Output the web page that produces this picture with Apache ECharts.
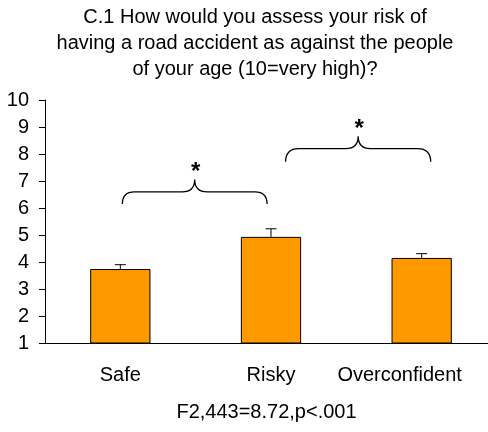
<!DOCTYPE html>
<html>
<head>
<meta charset="utf-8">
<script src="https://cdn.jsdelivr.net/npm/echarts@6/dist/echarts.min.js"></script>
<style>
html,body{margin:0;padding:0;background:#fff;overflow:hidden;width:488px;height:432px;}
#chart{width:500px;height:432px;}
</style>
</head>
<body>
<div id="chart"></div>
<script>
var titleText = 'C.1 How would you assess your risk of\nhaving a road accident as against the people\nof your age (10=very high)?';
var categories = ['Safe', 'Risky', 'Overconfident'];
var means = [3.74, 4.93, 4.15];
var errUpper = [3.90, 5.23, 4.31];
var yMin = 1, yMax = 10, yStep = 1;
var xAxisTitle = 'F2,443=8.72,p<.001';
// brace annotations
var braceFrom = [0, 1];
var braceTo = [1, 2];
var braceEnd = [6.15, 7.71];
var braceBar = [6.60, 8.20];
var braceTip = [7.06, 8.66];
var braceFromShift = [0.013, 0.097];
var braceToShift = [-0.026, 0.06];
var braceMark = ['*', '*'];

var FONT = '"Liberation Sans", Arial, sans-serif';
var FS = 20;
var chart = echarts.init(document.getElementById('chart'), null, {renderer: 'canvas'});

var errData = means.map(function (m, i) { return [i, m, errUpper[i]]; });
var braceData = braceFrom.map(function (f, i) {
  return [f, braceTo[i], braceEnd[i], braceBar[i], braceTip[i], braceFromShift[i], braceToShift[i]];
});

var xData = categories.map(function (c, i) {
  if (i === categories.length - 1) {
    return {value: c, textStyle: {padding: [0, 44, 0, 0]}};
  }
  return c;
});

chart.setOption({
  animation: false,
  backgroundColor: '#ffffff',
  title: {
    text: titleText,
    left: 255,
    textAlign: 'center',
    top: 4,
    padding: 0,
    textStyle: {fontFamily: FONT, fontSize: FS, fontWeight: 'normal', color: '#000', lineHeight: 26}
  },
  grid: {left: 45, top: 100, bottom: 89, width: 452, containLabel: false},
  xAxis: {
    type: 'category',
    data: xData,
    axisLine: {lineStyle: {color: '#000', width: 1}},
    axisTick: {show: false},
    axisLabel: {fontFamily: FONT, fontSize: FS, color: '#000', margin: 22, interval: 0},
    name: xAxisTitle,
    nameLocation: 'middle',
    nameGap: 59,
    nameTextStyle: {fontFamily: FONT, fontSize: FS, color: '#000', padding: [0, 9, 0, 0]}
  },
  yAxis: {
    type: 'value',
    min: yMin,
    max: yMax,
    interval: yStep,
    splitLine: {show: false},
    axisLine: {show: true, lineStyle: {color: '#000', width: 1}},
    axisTick: {show: true, length: 6, lineStyle: {color: '#000'}},
    axisLabel: {fontFamily: FONT, fontSize: FS, color: '#000', margin: 16}
  },
  series: [
    {
      type: 'bar',
      data: means,
      barWidth: '40%',
      itemStyle: {color: '#FF9900', borderColor: '#000', borderWidth: 1},
      z: 2
    },
    {
      type: 'custom',
      data: errData,
      z: 3,
      renderItem: function (params, api) {
        var x = api.value(0);
        var p0 = api.coord([x, api.value(1)]);
        var p1 = api.coord([x, api.value(2)]);
        var hw = 5.5;
        return {
          type: 'group',
          children: [
            {type: 'line', shape: {x1: p0[0], y1: p0[1], x2: p1[0], y2: p1[1]}, style: {stroke: '#000', lineWidth: 1}},
            {type: 'line', shape: {x1: p1[0] - hw, y1: p1[1], x2: p1[0] + hw, y2: p1[1]}, style: {stroke: '#000', lineWidth: 1}}
          ]
        };
      }
    },
    {
      type: 'custom',
      data: braceData,
      z: 4,
      clip: false,
      renderItem: function (params, api) {
        var bw = api.size([1, 0])[0];
        var a = api.coord([api.value(0), api.value(2)]);
        var b = api.coord([api.value(1), api.value(2)]);
        var x0 = a[0] + api.value(5) * bw;
        var x1 = b[0] + api.value(6) * bw;
        var yb = a[1];
        var yh = api.coord([api.value(0), api.value(3)])[1];
        var yp = api.coord([api.value(0), api.value(4)])[1];
        var xm = (x0 + x1) / 2;
        var r = yb - yh;
        var t = yh - yp;
        var path = 'M' + x0 + ' ' + yb +
          ' Q' + x0 + ' ' + yh + ' ' + (x0 + r) + ' ' + yh +
          ' L' + (xm - t) + ' ' + yh +
          ' Q' + xm + ' ' + yh + ' ' + xm + ' ' + yp +
          ' Q' + xm + ' ' + yh + ' ' + (xm + t) + ' ' + yh +
          ' L' + (x1 - r) + ' ' + yh +
          ' Q' + x1 + ' ' + yh + ' ' + x1 + ' ' + yb;
        return {
          type: 'group',
          children: [
            {type: 'path', shape: {pathData: path}, style: {fill: null, stroke: '#000', lineWidth: 1.3}},
            {type: 'text', x: xm + 1, y: yp + 5,
              style: {text: braceMark[params.dataIndex], font: 'bold 24px ' + FONT, fill: '#000', align: 'center', verticalAlign: 'bottom'}}
          ]
        };
      }
    }
  ]
});
</script>
</body>
</html>
